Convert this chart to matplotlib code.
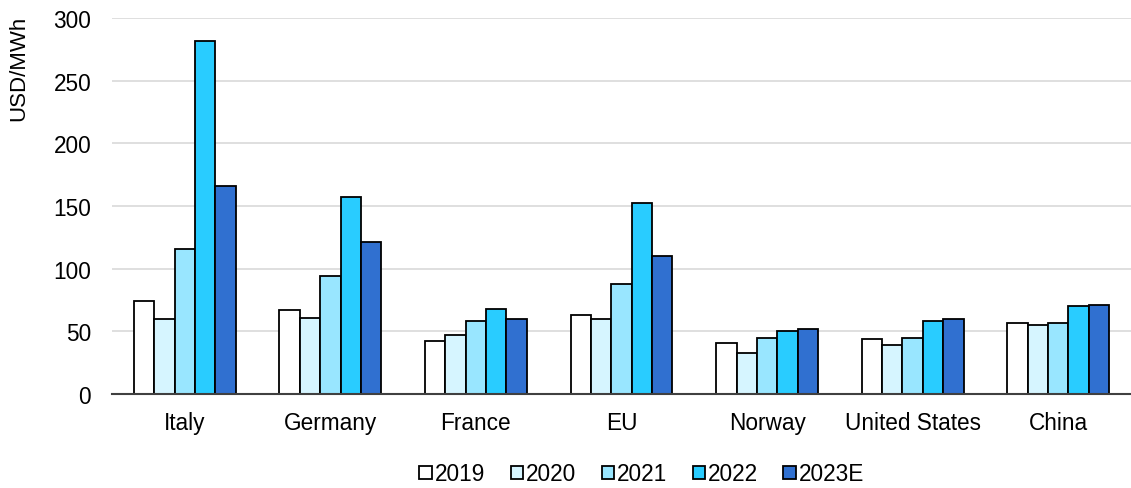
import numpy as np
import matplotlib.pyplot as plt

plt.rcParams['font.family'] = ['Liberation Sans', 'DejaVu Sans']

regions = ["Italy", "Germany", "France", "EU", "Norway", "United States", "China"]
years = ["2019", "2020", "2021", "2022", "2023E"]

# USD/MWh per year, one list per region order above
v2019 = [74, 67, 42, 63, 41, 44, 57]
v2020 = [60, 61, 47, 60, 33, 39, 55]
v2021 = [116, 94, 58, 88, 45, 45, 57]
v2022 = [282, 157, 68, 152, 50, 58, 70]
v2023 = [166, 121, 60, 110, 52, 60, 71]
values = [v2019, v2020, v2021, v2022, v2023]

colors = ["#FFFFFF", "#D6F5FF", "#99E6FF", "#29CCFF", "#3070D0"]

fig = plt.figure(figsize=(11.31, 4.89), dpi=100)
ax = fig.add_axes([112 / 1131, 1 - 395 / 489, 1 - 112 / 1131, (395 - 19) / 489])

x = np.arange(len(regions))
w = 0.14
for i, (yr, vals) in enumerate(zip(years, values)):
    ax.bar(x + (i - 2) * w, vals, w, color=colors[i], edgecolor="black",
           linewidth=1.3, label=yr, zorder=3)

ax.set_xlim(-0.5, len(regions) - 0.5)
ax.set_ylim(0, 300)
ax.set_yticks(range(0, 301, 50))
ax.set_xticks(x)
ax.set_xticklabels(regions)
ax.tick_params(axis="both", labelsize=16.3, length=0)
ax.tick_params(axis="x", pad=12)
ax.tick_params(axis="y", pad=15)
ax.grid(axis="y", color="#D9D9D9", linewidth=1.2, zorder=0)
for s in ["top", "right", "left"]:
    ax.spines[s].set_visible(False)
ax.spines["bottom"].set_color("#404040")
ax.spines["bottom"].set_linewidth(1.5)
ax.spines["bottom"].set_zorder(4)
ax.set_ylabel("USD/MWh", fontsize=16)
ax.yaxis.set_label_coords(-83 / 1019, 0.87)

fig.legend(loc="center", bbox_to_anchor=(642 / 1131, 1 - 475 / 489), ncol=5,
           frameon=False, fontsize=16.3, handlelength=0.55, handleheight=0.55,
           handletextpad=0.15, columnspacing=1.1)

fig.savefig("out.png", dpi=100)
